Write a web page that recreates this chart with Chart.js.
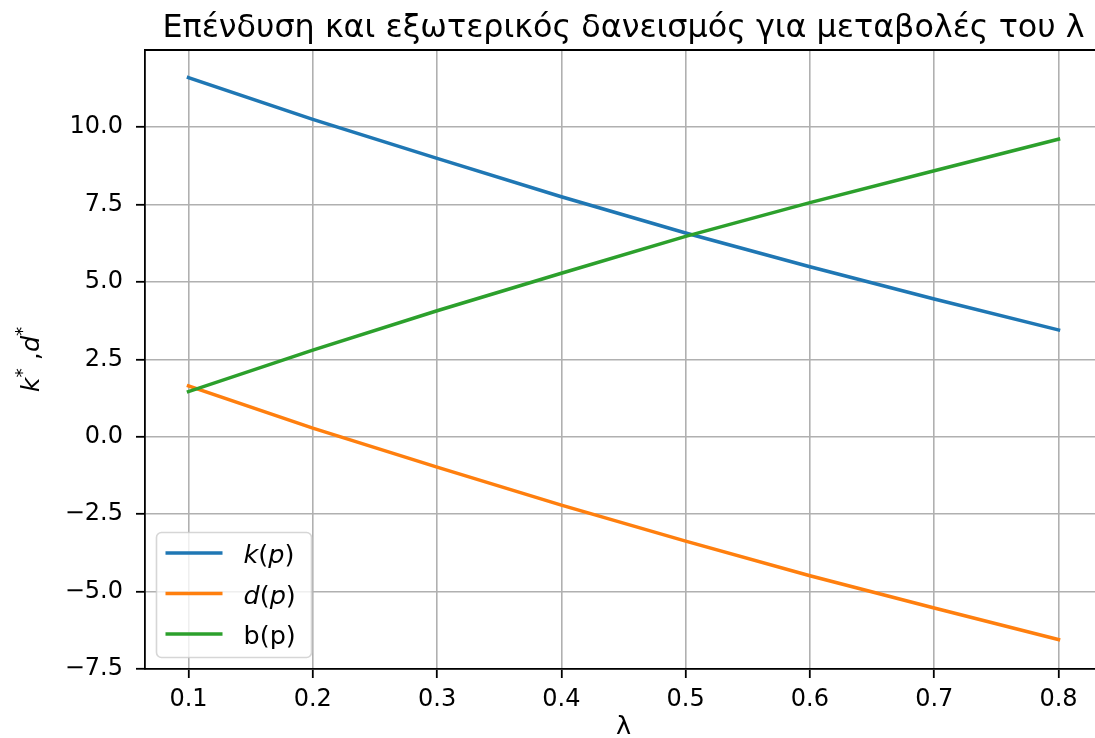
<!DOCTYPE html>
<html>
<head>
<meta charset="utf-8">
<script src="https://cdn.jsdelivr.net/npm/chart.js@4.4.1/dist/chart.umd.min.js"></script>
<style>
  html, body { margin: 0; padding: 0; background: #fff; overflow: hidden; }
  #wrap { width: 1110px; height: 738px; }
</style>
</head>
<body>
<div id="wrap"><canvas id="c" width="1110" height="738"></canvas></div>
<script>
// λ values and the three series
const lambdaValues = [0.1, 0.2, 0.3, 0.4, 0.5, 0.6, 0.7, 0.8];
const kValues = [11.60, 10.25, 8.99, 7.75, 6.58, 5.49, 4.45, 3.45];
const dValues = [1.64, 0.28, -0.98, -2.21, -3.37, -4.49, -5.53, -6.55];
const bValues = [1.46, 2.80, 4.07, 5.28, 6.47, 7.56, 8.59, 9.61];

// tick labels
const xTickValues = [0.1, 0.2, 0.3, 0.4, 0.5, 0.6, 0.7, 0.8];
const yTickValues = [-7.5, -5.0, -2.5, 0.0, 2.5, 5.0, 7.5, 10.0];

const titleText = 'Επένδυση και εξωτερικός δανεισμός για μεταβολές του λ';
const xAxisLabel = 'λ';

// legend labels split into italic (math) and upright pieces
const kLabel = [['k', true], ['(', false], ['p', true], [')', false]];
const dLabel = [['d', true], ['(', false], ['p', true], [')', false]];
const bLabel = [['b(p)', false]];

const FONT = "'DejaVu Sans', sans-serif";
const TICK_FS = 24;
const FS = 25.5;

function points(ys) {
  return lambdaValues.map((x, i) => ({ x: x, y: ys[i] }));
}

function fmtTick(v) {
  return v.toFixed(1).replace('-', '\u2212');
}

// draws a run of mixed italic/upright text, returns width
function drawPieces(ctx, pieces, x, y, size) {
  let cx = x;
  for (const [t, it] of pieces) {
    ctx.font = (it ? 'italic ' : '') + size + 'px ' + FONT;
    ctx.fillText(t, cx, y);
    cx += ctx.measureText(t).width;
  }
  return cx - x;
}

const decorations = {
  id: 'decorations',
  afterDraw(chart) {
    const ctx = chart.ctx;
    const a = chart.chartArea;
    ctx.save();

    // top and right spines
    ctx.strokeStyle = '#000';
    ctx.lineWidth = 1.8;
    ctx.beginPath();
    ctx.moveTo(a.left, a.top);
    ctx.lineTo(a.right, a.top);
    ctx.lineTo(a.right, a.bottom);
    ctx.stroke();

    // title
    ctx.fillStyle = '#000';
    ctx.textAlign = 'center';
    ctx.textBaseline = 'alphabetic';
    ctx.font = '31.8px ' + FONT;
    ctx.fillText(titleText, (a.left + a.right) / 2, 37);

    // x axis label
    ctx.font = FS + 'px ' + FONT;
    ctx.fillText(xAxisLabel, (a.left + a.right) / 2, 734);

    // y axis label: k^*, d^*
    ctx.save();
    ctx.translate(39, (a.top + a.bottom) / 2);
    ctx.rotate(-Math.PI / 2);
    ctx.textAlign = 'left';
    const sup = FS * 0.72;
    const parts = [
      ['k', true, 0, FS], ['*', false, -11, sup], [' ,', false, 0, FS],
      ['d', true, 0, FS], ['*', false, -11, sup]
    ];
    let total = 0;
    for (const [t, it, dy, s] of parts) {
      ctx.font = (it ? 'italic ' : '') + s + 'px ' + FONT;
      total += ctx.measureText(t).width;
    }
    let cx = -total / 2;
    for (const [t, it, dy, s] of parts) {
      ctx.font = (it ? 'italic ' : '') + s + 'px ' + FONT;
      ctx.fillText(t, cx, dy);
      cx += ctx.measureText(t).width;
    }
    ctx.restore();

    // legend
    const pad = 11.5;
    const boxX = a.left + pad, boxBottom = a.bottom - pad;
    const boxW = 155, boxH = 125;
    const boxY = boxBottom - boxH;
    ctx.fillStyle = 'rgba(255,255,255,0.8)';
    ctx.strokeStyle = 'rgba(204,204,204,0.8)';
    ctx.lineWidth = 1.6;
    ctx.beginPath();
    ctx.roundRect(boxX, boxY, boxW, boxH, 5);
    ctx.fill();
    ctx.stroke();

    const labels = [kLabel, dLabel, bLabel];
    chart.data.datasets.forEach((ds, i) => {
      const ly = boxY + 20.5 + i * 40.5;
      ctx.strokeStyle = ds.borderColor;
      ctx.lineWidth = 3.5;
      ctx.beginPath();
      ctx.moveTo(boxX + 9, ly);
      ctx.lineTo(boxX + 66, ly);
      ctx.stroke();
      ctx.fillStyle = '#000';
      ctx.textAlign = 'left';
      ctx.textBaseline = 'alphabetic';
      drawPieces(ctx, labels[i], boxX + 87, ly + 10, FS);
    });

    ctx.restore();
  }
};

const lineStyle = {
  borderWidth: 3.5,
  pointRadius: 0,
  tension: 0,
  fill: false,
  borderCapStyle: 'square'
};

new Chart(document.getElementById('c'), {
  type: 'line',
  data: {
    datasets: [
      Object.assign({ label: 'k(p)', data: points(kValues), borderColor: '#1f77b4', order: 2 }, lineStyle),
      Object.assign({ label: 'd(p)', data: points(dValues), borderColor: '#ff7f0e', order: 1 }, lineStyle),
      Object.assign({ label: 'b(p)', data: points(bValues), borderColor: '#2ca02c', order: 0 }, lineStyle)
    ]
  },
  options: {
    responsive: false,
    animation: false,
    layout: { padding: { top: 50, right: 8, left: 0, bottom: 0 }, autoPadding: false },
    plugins: { legend: { display: false }, tooltip: { enabled: false }, title: { display: false } },
    scales: {
      x: {
        type: 'linear',
        min: 0.065,
        max: 0.835,
        afterBuildTicks(s) { s.ticks = xTickValues.map(v => ({ value: v })); },
        afterFit(s) { s.height = 69; },
        ticks: {
          callback: v => v.toFixed(1),
          color: '#000',
          font: { family: FONT, size: TICK_FS },
          padding: 7,
          maxRotation: 0,
          autoSkip: false
        },
        grid: { color: '#b0b0b0', lineWidth: 1.6, tickLength: 9, tickColor: '#000', tickWidth: 1.8 },
        border: { display: true, color: '#000', width: 1.8 }
      },
      y: {
        type: 'linear',
        min: -7.5,
        max: 12.49,
        afterBuildTicks(s) { s.ticks = yTickValues.map(v => ({ value: v })); },
        afterFit(s) { s.width = 145; },
        ticks: {
          callback: v => fmtTick(v),
          color: '#000',
          font: { family: FONT, size: TICK_FS },
          padding: 13,
          autoSkip: false
        },
        grid: { color: '#b0b0b0', lineWidth: 1.6, tickLength: 9, tickColor: '#000', tickWidth: 1.8 },
        border: { display: true, color: '#000', width: 1.8 }
      }
    }
  },
  plugins: [decorations]
});
</script>
</body>
</html>
